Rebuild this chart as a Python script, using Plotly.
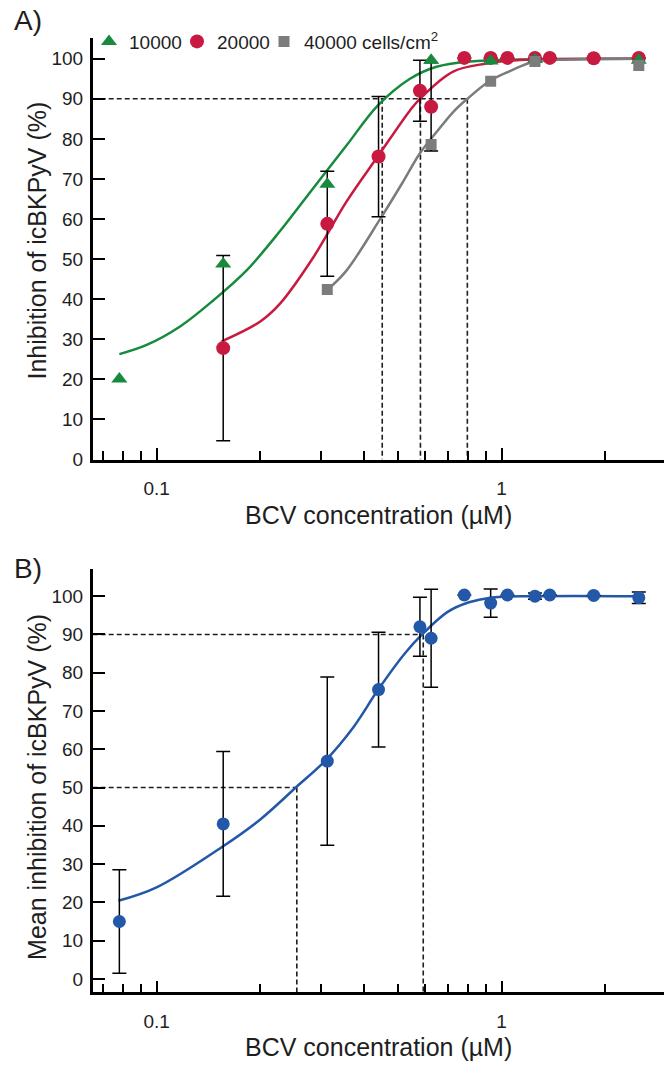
import plotly.graph_objects as go

# ---------------- data ----------------
# Panel A
green_x = [0.078, 0.156, 0.3125, 0.625, 0.93, 1.25, 2.5]
green_y = [20.1, 48.8, 68.7, 99.6, 99.4, 99.8, 99.6]
red_x = [0.156, 0.3125, 0.44, 0.58, 0.625, 0.78, 0.93, 1.04, 1.25, 1.38, 1.85, 2.5]
red_y = [27.8, 58.8, 75.6, 92.0, 88.0, 100.2, 100.2, 100.2, 100.2, 100.2, 100.1, 100.2]
red_err = [23.1, 13.1, 15.0, 7.6, 11.0, 0, 0, 0, 0, 0, 0, 0]
gray_x = [0.3125, 0.625, 0.93, 1.25, 2.5]
gray_y = [42.4, 78.6, 94.4, 99.3, 98.3]

# fitted curves
green_fit_x = [0.078, 0.0936, 0.117, 0.146, 0.1824, 0.228, 0.2845, 0.3556, 0.4375, 0.5428, 0.648, 0.81, 1.13, 2.5]
green_fit_y = [26.3, 28.6, 33.2, 39.7, 47.2, 57.0, 67.7, 78.4, 88.3, 95.0, 98.0, 99.3, 99.8, 100.0]
red_fit_x = [0.1544, 0.1994, 0.228, 0.2845, 0.3556, 0.4375, 0.5428, 0.58, 0.724, 0.905, 1.13, 2.5]
red_fit_y = [29.5, 34.4, 38.9, 50.4, 64.4, 75.6, 87.1, 90.0, 96.8, 98.8, 99.7, 100.0]
gray_fit_x = [0.318, 0.3556, 0.444, 0.519, 0.58, 0.648, 0.724, 0.796, 0.926, 1.057, 1.232, 1.58, 2.5]
gray_fit_y = [42.9, 47.2, 59.9, 69.4, 76.4, 81.7, 86.7, 90.0, 94.5, 96.9, 99.2, 99.8, 100.0]

ec90_a = [0.451, 0.582, 0.796]

# Panel B
blue_x = [0.078, 0.156, 0.3125, 0.44, 0.58, 0.625, 0.78, 0.93, 1.04, 1.25, 1.38, 1.85, 2.5]
blue_y = [15.0, 40.5, 56.9, 75.6, 92.0, 89.0, 100.3, 98.2, 100.3, 100.0, 100.3, 100.2, 99.6]
blue_err = [13.5, 18.9, 22.0, 15.0, 7.7, 12.8, 0, 3.7, 0, 0.8, 0, 0, 1.5]
blue_fit_x = [0.0775, 0.1, 0.1544, 0.1994, 0.2547, 0.309, 0.3716, 0.439, 0.525, 0.5886, 0.698, 0.805, 0.929, 1.234, 2.5]
blue_fit_y = [20.4, 23.9, 34.4, 41.6, 50.2, 57.1, 65.7, 75.6, 85.1, 90.0, 95.9, 98.4, 99.6, 100.0, 100.0]
ec50_b = 0.255
ec90_b = 0.593

legend_names = ["10000", "20000", "40000 cells/cm<sup>2</sup>"]
x_major = [0.1, 1]
x_major_text = ["0.1", "1"]
x_minor = [0.07, 0.08, 0.09, 0.2, 0.3, 0.4, 0.5, 0.6, 0.7, 0.8, 0.9, 2]
y_ticks = list(range(0, 101, 10))

# ---------------- layout helpers ----------------
W, H = 669, 1077
FONT = "Liberation Sans, Arial, sans-serif"
GREEN = "#178a3e"
RED = "#c81a40"
GRAY = "#7b7c7e"
BLUE = "#2357a8"
DASH = "#1e1e1e"
TXT = "#1e1e1e"

XLOG = [-1.1852, 0.471]
XMIN = 10 ** XLOG[0]

def py(p):
    return 1 - p / H

dash_line = dict(color=DASH, width=1.6, dash="5px,3px")

fig = go.Figure()

# dashed guide lines, panel A
fig.add_trace(go.Scatter(x=[XMIN, ec90_a[2]], y=[90, 90], mode="lines", line=dash_line,
                         showlegend=False, hoverinfo="skip", xaxis="x", yaxis="y"))
for e in ec90_a:
    fig.add_trace(go.Scatter(x=[e, e], y=[90, 0], mode="lines", line=dash_line,
                             showlegend=False, hoverinfo="skip", xaxis="x", yaxis="y"))

# curves panel A
for fx, fy, c in [(green_fit_x, green_fit_y, GREEN), (red_fit_x, red_fit_y, RED), (gray_fit_x, gray_fit_y, GRAY)]:
    fig.add_trace(go.Scatter(x=fx, y=fy, mode="lines", line=dict(color=c, width=2.5, shape="spline"),
                             showlegend=False, hoverinfo="skip", xaxis="x", yaxis="y"))

# markers panel A (each legend entry in its own legend box for exact placement)
fig.add_trace(go.Scatter(x=red_x, y=red_y, mode="markers", name=legend_names[1], legend="legend2",
                         marker=dict(symbol="circle", size=14, color=RED),
                         error_y=dict(type="data", array=red_err, color="black", thickness=1.5, width=7),
                         xaxis="x", yaxis="y"))
fig.add_trace(go.Scatter(x=green_x, y=green_y, mode="markers", name=legend_names[0], legend="legend",
                         marker=dict(symbol="triangle-up", size=14, color=GREEN),
                         xaxis="x", yaxis="y"))
fig.add_trace(go.Scatter(x=gray_x, y=gray_y, mode="markers", name=legend_names[2], legend="legend3",
                         marker=dict(symbol="square", size=11, color=GRAY),
                         xaxis="x", yaxis="y"))

# panel B
fig.add_trace(go.Scatter(x=[XMIN, ec90_b], y=[90, 90], mode="lines", line=dash_line,
                         showlegend=False, hoverinfo="skip", xaxis="x2", yaxis="y2"))
fig.add_trace(go.Scatter(x=[ec90_b, ec90_b], y=[90, -3.54], mode="lines", line=dash_line,
                         showlegend=False, hoverinfo="skip", xaxis="x2", yaxis="y2"))
fig.add_trace(go.Scatter(x=[XMIN, ec50_b], y=[50, 50], mode="lines", line=dash_line,
                         showlegend=False, hoverinfo="skip", xaxis="x2", yaxis="y2"))
fig.add_trace(go.Scatter(x=[ec50_b, ec50_b], y=[50, -3.54], mode="lines", line=dash_line,
                         showlegend=False, hoverinfo="skip", xaxis="x2", yaxis="y2"))
fig.add_trace(go.Scatter(x=blue_fit_x, y=blue_fit_y, mode="lines",
                         line=dict(color=BLUE, width=2.5, shape="spline"),
                         showlegend=False, hoverinfo="skip", xaxis="x2", yaxis="y2"))
fig.add_trace(go.Scatter(x=blue_x, y=blue_y, mode="markers", showlegend=False,
                         marker=dict(symbol="circle", size=13, color=BLUE),
                         error_y=dict(type="data", array=blue_err, color="black", thickness=1.5, width=7),
                         xaxis="x2", yaxis="y2"))

xdom = [92.7 / W, 664 / W]

def xaxis_cfg(anchor):
    return dict(type="log", range=XLOG, domain=xdom, anchor=anchor,
                showline=True, linecolor="black", linewidth=2.5,
                ticks="inside", ticklen=12, tickwidth=2, tickcolor="black",
                tickmode="array", tickvals=x_major, ticktext=x_major_text,
                minor=dict(tickmode="array", tickvals=x_minor, ticks="inside",
                           ticklen=9, tickwidth=2, tickcolor="black", showgrid=False),
                showgrid=False, zeroline=False,
                tickfont=dict(family=FONT, size=19, color=TXT),
                ticklabelstandoff=10)

def yaxis_cfg(anchor, rng, dom):
    return dict(range=rng, domain=dom, anchor=anchor,
                showline=True, linecolor="black", linewidth=2.5,
                ticks="inside", ticklen=13, tickwidth=2, tickcolor="black",
                tickmode="array", tickvals=y_ticks,
                showgrid=False, zeroline=False,
                tickfont=dict(family=FONT, size=19, color=TXT),
                ticklabelstandoff=3)

def legend_cfg(xpx):
    return dict(orientation="h", x=xpx / W, xanchor="left", y=py(42), yanchor="middle",
                font=dict(family=FONT, size=19, color=TXT), bgcolor="rgba(0,0,0,0)",
                itemwidth=30, tracegroupgap=0)

fig.update_layout(
    width=W, height=H,
    margin=dict(l=0, r=0, t=0, b=0),
    paper_bgcolor="white", plot_bgcolor="white",
    font=dict(family=FONT, color=TXT),
    xaxis=xaxis_cfg("y"),
    yaxis=yaxis_cfg("x", [0, 105.19], [py(464.3), py(38.3)]),
    xaxis2=xaxis_cfg("y2"),
    yaxis2=yaxis_cfg("x2", [-3.54, 107.06], [py(1002.7), py(575)]),
    legend=legend_cfg(89),
    legend2=legend_cfg(177),
    legend3=legend_cfg(264),
    showlegend=True,
    annotations=[
        dict(text="A)", x=12 / W, y=py(21), xref="paper", yref="paper", showarrow=False,
             xanchor="left", yanchor="middle", font=dict(family=FONT, size=28, color=TXT)),
        dict(text="B)", x=12 / W, y=py(574), xref="paper", yref="paper", showarrow=False,
             xanchor="left", yanchor="middle", font=dict(family=FONT, size=28, color=TXT)),
        dict(text="Inhibition of icBKPyV (%)", x=37 / W, y=py(243), xref="paper", yref="paper",
             showarrow=False, textangle=-90, xanchor="center", yanchor="middle",
             font=dict(family=FONT, size=25, color=TXT)),
        dict(text="Mean inhibition of icBKPyV (%)", x=37 / W, y=py(795), xref="paper", yref="paper",
             showarrow=False, textangle=-90, xanchor="center", yanchor="middle",
             font=dict(family=FONT, size=25, color=TXT)),
        dict(text="BCV concentration (µM)", x=378 / W, y=py(520), xref="paper", yref="paper",
             showarrow=False, xanchor="center", yanchor="middle",
             font=dict(family=FONT, size=25, color=TXT)),
        dict(text="BCV concentration (µM)", x=378 / W, y=py(1058), xref="paper", yref="paper",
             showarrow=False, xanchor="center", yanchor="middle",
             font=dict(family=FONT, size=25, color=TXT)),
    ],
)

fig.write_html("out.html")
